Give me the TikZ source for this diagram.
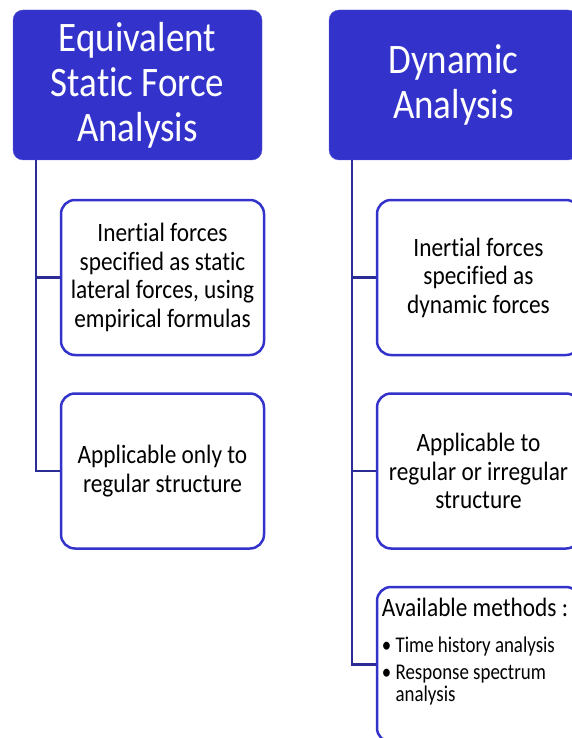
\documentclass[tikz,border=0pt]{standalone}
\usepackage{fontspec}
\setmainfont{Carlito}
\newfontfamily\narrowfont[FakeStretch=0.88,RawFeature=-liga]{Carlito}
\newfontfamily\tightfont[FakeStretch=0.84,RawFeature=-liga]{Carlito}
\usetikzlibrary{positioning}
\definecolor{boxblue}{RGB}{51,51,204}
\definecolor{trunkblue}{RGB}{44,44,150}
\newcommand\methodline[1]{\tightfont\fontsize{22.5}{23}\selectfont #1}

\begin{document}
\begin{tikzpicture}[x=1pt,y=-1pt,
        head/.style={fill=boxblue,draw=boxblue!80!white,rounded corners=10pt,
            minimum width=249pt,minimum height=150pt,text=white,align=center,
            font=\narrowfont\fontsize{42}{45}\selectfont},
        leaf/.style={draw=boxblue,line width=2.5pt,fill=white,rounded corners=14pt,
            minimum width=203pt,minimum height=155pt,align=center,
            font=\narrowfont\fontsize{26.5}{28.5}\selectfont},
        trunk/.style={draw=trunkblue,line width=2.5pt}
    ]
        \useasboundingbox (0,0) rectangle (572,738);
        \clip (0,0) rectangle (572,738);

        % column heads
        \node[head] (lhead) at (137.5,85) {Equivalent\\Static Force\\Analysis};
        \node[head] (rhead) at (453.5,85) {Dynamic\\Analysis};

        % left column
        \node[leaf] (lone) at (162.5,277.5) {Inertial forces\\specified as static\\lateral forces, using\\empirical formulas};
        \node[leaf] (ltwo) at (162.5,471) {Applicable only to\\regular structure};

        % right column
        \node[leaf] (rone) at (478.5,277.5) {Inertial forces\\specified as\\dynamic forces};
        \node[leaf] (rtwo) at (478.5,471) {Applicable to\\regular or irregular\\structure};
        \node[leaf] (rthree) at (478.5,664.5) {};
        \node[anchor=north west,inner sep=0pt,align=left,
            font=\narrowfont\fontsize{26.5}{28}\selectfont]
            (methods) at ([xshift=6pt,yshift=-12pt]rthree.north west)
            {Available methods :\\[8pt]
             \methodline{\textbullet\ Time history analysis}\\[-1pt]
             \methodline{\textbullet\ Response spectrum}\\[-6pt]
             \methodline{\hphantom{\textbullet\ }analysis}};

        % connectors
        \coordinate (ltrunk) at ([xshift=23pt]lhead.south west);
        \coordinate (rtrunk) at ([xshift=23pt]rhead.south west);
        \path[trunk]
        (ltrunk) edge (ltrunk |- lone.west)
        (ltrunk) edge[to path={|- (\tikztotarget)}] (ltwo.west)
        (ltrunk |- lone.west) edge (lone.west)
        (rtrunk) edge[to path={|- (\tikztotarget)}] (rthree.west)
        (rtrunk |- rone.west) edge (rone.west)
        (rtrunk |- rtwo.west) edge (rtwo.west);
\end{tikzpicture}
\end{document}
